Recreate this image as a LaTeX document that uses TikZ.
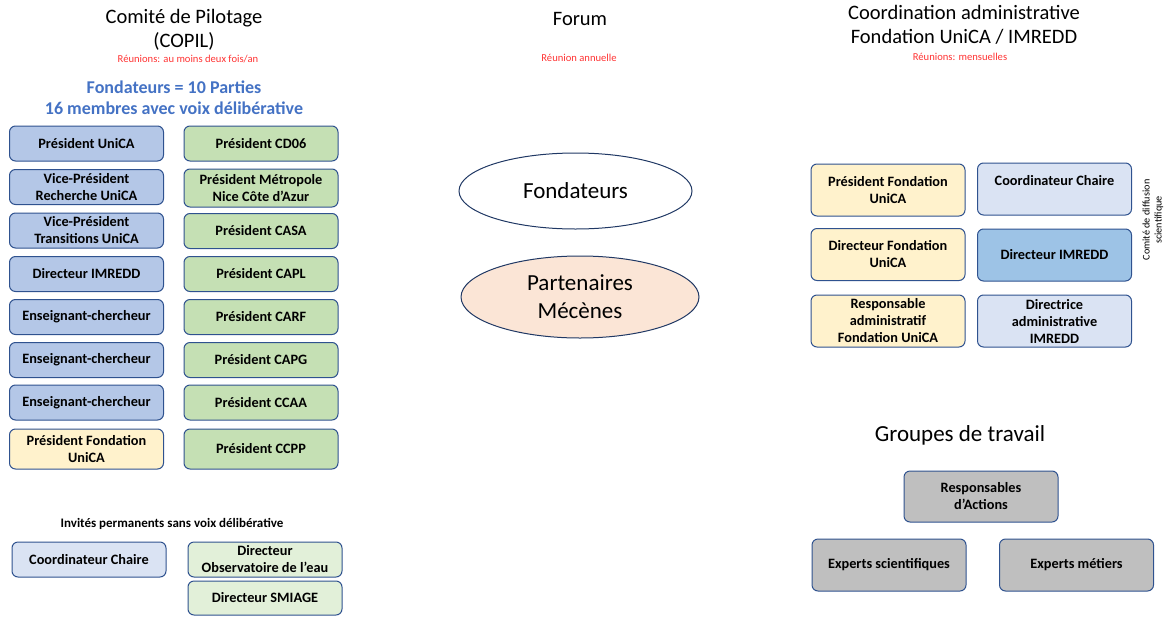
\documentclass[tikz,border=0pt]{standalone}
\usepackage{fontspec}
\setmainfont{Carlito}
\usetikzlibrary{shapes.geometric}
\definecolor{trait}{HTML}{2F528F}
\definecolor{bleu}{HTML}{B4C7E7}
\definecolor{vert}{HTML}{C5E0B4}
\definecolor{jaune}{HTML}{FFF2CC}
\definecolor{bleuclair}{HTML}{DAE3F3}
\definecolor{vertclair}{HTML}{E2F0D9}
\definecolor{bleumoyen}{HTML}{9DC3E6}
\definecolor{gris}{HTML}{BFBFBF}
\definecolor{peche}{HTML}{FBE5D6}
\definecolor{marine}{HTML}{203864}
\definecolor{titrebleu}{HTML}{4472C4}
\definecolor{rouge}{HTML}{FF3333}
\begin{document}
\begin{tikzpicture}[x=1pt,y=1pt,
        box/.style={draw=trait,rectangle,rounded corners=6pt,line width=1pt,minimum width=154pt,minimum height=35pt,inner sep=1pt,align=center,font=\fontsize{14.3}{17}\selectfont\bfseries},
        grand/.style={box,minimum height=52pt},
        ell/.style={draw=marine,ellipse,line width=1pt,inner sep=0pt,align=center,font=\fontsize{23}{28}\selectfont},
        titre/.style={align=center,font=\fontsize{20.5}{24}\selectfont},
        note/.style={text=rouge,font=\fontsize{10.6}{12}\selectfont}
      ]
      \useasboundingbox (0,0) rectangle (1167,-616);
      % Comite de pilotage
      \node[titre] (copil) at (184,-30) {Comité de Pilotage\\(COPIL)};
      \node[note] (rcopil) at (188,-59) {Réunions: au moins deux fois/an};
      \node[align=center,text=titrebleu,font=\fontsize{18}{21}\selectfont\bfseries] (nbf) at (174,-98) {Fondateurs = 10 Parties\\16 membres avec voix délibérative};
      \node[box,fill=bleu] (pu) at (86.5,-143.5) {Président UniCA};
      \node[box,fill=bleu] (vpr) at (86.5,-187) {Vice-Président\\Recherche UniCA};
      \node[box,fill=bleu] (vpt) at (86.5,-230.5) {Vice-Président\\Transitions UniCA};
      \node[box,fill=bleu] (dir) at (86.5,-274) {Directeur IMREDD};
      \node[box,fill=bleu] (ec1) at (86.5,-317) {Enseignant-chercheur};
      \node[box,fill=bleu] (ec2) at (86.5,-360) {Enseignant-chercheur};
      \node[box,fill=bleu] (ec3) at (86.5,-402.5) {Enseignant-chercheur};
      \node[box,fill=jaune,minimum height=40pt] (pf) at (86.5,-449) {Président Fondation\\UniCA};
      \node[box,fill=vert] (cd) at (261,-143.5) {Président CD06};
      \node[box,fill=vert,minimum height=38pt] (nca) at (261,-188) {Président Métropole\\Nice Côte d'Azur};
      \node[box,fill=vert] (casa) at (261,-231) {Président CASA};
      \node[box,fill=vert] (capl) at (261,-274) {Président CAPL};
      \node[box,fill=vert] (carf) at (261,-317) {Président CARF};
      \node[box,fill=vert] (capg) at (261,-360) {Président CAPG};
      \node[box,fill=vert] (ccaa) at (261,-402.5) {Président CCAA};
      \node[box,fill=vert,minimum height=40pt] (ccpp) at (261,-449) {Président CCPP};
      % invites
      \node[font=\fontsize{13}{15}\selectfont\bfseries] (inv) at (172,-524) {Invités permanents sans voix délibérative};
      \node[box,fill=bleuclair] (cc) at (89,-559.5) {Coordinateur Chaire};
      \node[box,fill=vertclair] (obs) at (265,-559.5) {Directeur\\Observatoire de l'eau};
      \node[box,fill=vertclair,minimum height=34pt] (smi) at (265,-598) {Directeur SMIAGE};
      % Forum
      \node[titre] (forum) at (580,-19) {Forum};
      \node[note] (rforum) at (579,-58) {Réunion annuelle};
      \node[ell,minimum width=233pt,minimum height=76pt] (fond) at (575.5,-191) {Fondateurs};
      \node[ell,fill=peche,minimum width=238pt,minimum height=82pt] (mec) at (580,-297) {Partenaires\\Mécènes};
      % Coordination administrative
      \node[titre] (coord) at (964,-25) {Coordination administrative\\Fondation UniCA / IMREDD};
      \node[note] (rcoord) at (960,-57) {Réunions: mensuelles};
      \node[grand,fill=jaune] (cpf) at (888,-190) {Président Fondation\\UniCA};
      \node[grand,fill=jaune] (cdf) at (888,-254.5) {Directeur Fondation\\UniCA};
      \node[grand,fill=jaune] (cra) at (888,-321) {Responsable\\administratif\\Fondation UniCA};
      \node[grand,fill=bleuclair] (ccc) at (1054.5,-189) {Coordinateur Chaire\\~};
      \node[grand,fill=bleumoyen] (cdi) at (1054.5,-255) {Directeur IMREDD};
      \node[grand,fill=bleuclair] (cda) at (1054.5,-321) {Directrice\\administrative\\IMREDD};
      \node[rotate=90,align=center,font=\fontsize{10.2}{12}\selectfont] (cds) at (1153,-220) {Comité de diffusion\\scientifique};
      % Groupes de travail
      \node[font=\fontsize{23}{28}\selectfont] (gdt) at (960,-435) {Groupes de travail};
      \node[grand,fill=gris,minimum height=51pt] (ra) at (981,-496.5) {Responsables\\d'Actions};
      \node[grand,fill=gris] (es) at (889,-565) {Experts scientifiques};
      \node[grand,fill=gris] (em) at (1076.5,-565) {Experts métiers};
    \end{tikzpicture}
\end{document}
